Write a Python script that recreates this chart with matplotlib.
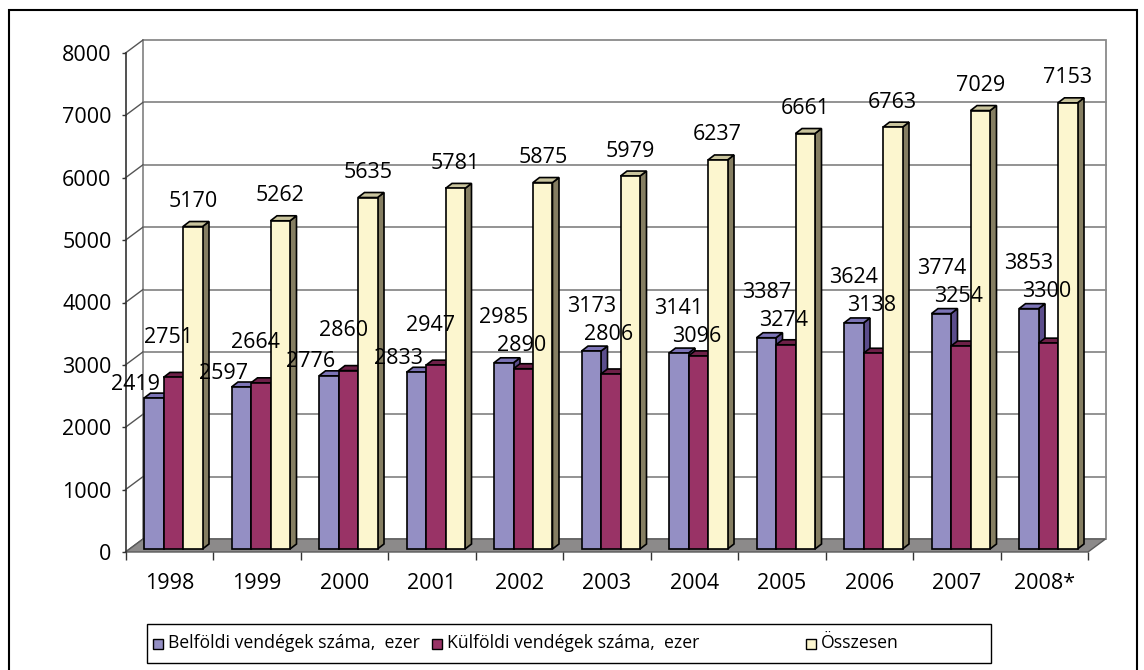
import matplotlib
matplotlib.use("Agg")
import matplotlib.pyplot as plt
from matplotlib.patches import Polygon, Rectangle
import numpy as np

years = ["1998", "1999", "2000", "2001", "2002", "2003", "2004", "2005", "2006", "2007", "2008*"]
belfoldi = [2419, 2597, 2776, 2833, 2985, 3173, 3141, 3387, 3624, 3774, 3853]
kulfoldi = [2751, 2664, 2860, 2947, 2890, 2806, 3096, 3274, 3138, 3254, 3300]
osszesen = [5170, 5262, 5635, 5781, 5875, 5979, 6237, 6661, 6763, 7029, 7153]
series_names = ["Belföldi vendégek száma,  ezer", "Külföldi vendégek száma,  ezer", "Összesen"]
yticks = [0, 1000, 2000, 3000, 4000, 5000, 6000, 7000, 8000]

plt.rcParams['font.family'] = ['Open Sans', 'DejaVu Sans']
FS = 15.5
FS_LEG = 12.7

W_PX, H_PX = 1144, 670
fig = plt.figure(figsize=(W_PX / 100, H_PX / 100), dpi=100)
fig.patch.set_facecolor('white')

ax_l, ax_r, ax_t, ax_b = 125.5, 1088, 53, 552
ax = fig.add_axes([ax_l / W_PX, 1 - ax_b / H_PX, (ax_r - ax_l) / W_PX, (ax_b - ax_t) / H_PX])
n = len(years)
ax.set_xlim(-0.5, n - 0.5)
ax.set_ylim(0, 8000)
ax.set_facecolor('none')

px_x = (ax_r - ax_l) / n          # pixels per category unit
px_y = (ax_b - ax_t) / 8000.0     # pixels per value unit

# depths (pixels -> data units)
wdx, wdy = 17.5 / px_x, 13.0 / px_y
bdx, bdy = 6.5 / px_x, 5.0 / px_y
lift = 3.0 / px_y
bar_w = 19.5 / px_x
group_start = 18.5 / px_x

grid_c = '#8a8a8a'
# back wall
ax.add_patch(Rectangle((-0.5 + wdx, wdy), n, 8000, facecolor='white', edgecolor=grid_c,
                       lw=1.3, zorder=0, clip_on=False))
for v in yticks[1:-1]:
    ax.plot([-0.5 + wdx, n - 0.5 + wdx], [v + wdy, v + wdy], color=grid_c, lw=1.3,
            zorder=0.5, clip_on=False)
# left wall diagonals
for v in yticks:
    ax.plot([-0.5, -0.5 + wdx], [v, v + wdy], color='#555555', lw=1.0, zorder=0.5, clip_on=False)
# floor
ax.add_patch(Polygon([(-0.5, 0), (n - 0.5, 0), (n - 0.5 + wdx, wdy), (-0.5 + wdx, wdy)],
                     closed=True, facecolor='#8c8a8a', edgecolor='#5a5a5a', lw=1.0,
                     zorder=1, clip_on=False))

faces = [
    ('#948fc4', '#7c74b6', '#5b4d8c'),
    ('#993366', '#6e2048', '#5c1a3c'),
    ('#fcf6cf', '#c9c49d', '#857e62'),
]
data = [belfoldi, kulfoldi, osszesen]

z = 2
for i in range(n):
    for s in range(3):
        v = data[s][i]
        xl = i - 0.5 + group_start + s * bar_w
        xr = xl + bar_w
        y0 = lift
        y1 = v + lift
        fc, tc, sc = faces[s]
        ax.add_patch(Polygon([(xr, y0), (xr + bdx, y0 + bdy), (xr + bdx, y1 + bdy), (xr, y1)],
                             closed=True, facecolor=sc, edgecolor='black', lw=1.2, zorder=z,
                             clip_on=False, joinstyle='miter'))
        ax.add_patch(Polygon([(xl, y1), (xr, y1), (xr + bdx, y1 + bdy), (xl + bdx, y1 + bdy)],
                             closed=True, facecolor=tc, edgecolor='black', lw=1.2, zorder=z + 0.1,
                             clip_on=False, joinstyle='miter'))
        ax.add_patch(Polygon([(xl, y0), (xr, y0), (xr, y1), (xl, y1)],
                             closed=True, facecolor=fc, edgecolor='black', lw=1.2, zorder=z + 0.2,
                             clip_on=False, joinstyle='miter'))
        z += 1


def put_label(i, s, y, dx_px):
    v = data[s][i]
    xc = i - 0.5 + group_start + (s + 0.5) * bar_w + dx_px / px_x
    ax.text(xc, y, str(v), ha='center', va='center',
            fontsize=FS, color='black', zorder=200, clip_on=False)


# data labels for the two first series: the taller bar's label goes higher,
# the other label sits just above the taller bar (or left of it)
HIGH_OFF, SEP = 40, 28
for i in range(n):
    b, k = belfoldi[i], kulfoldi[i]
    top_b = b + lift
    top_k = k + lift
    if b >= k:
        lo_y = top_b + 17 / px_y
        hi_y = max(top_b + HIGH_OFF / px_y, lo_y + SEP / px_y)
        put_label(i, 0, hi_y, 0)
        put_label(i, 1, lo_y, -2)
    else:
        lo_y = top_b + 14 / px_y
        hi_y = max(top_k + HIGH_OFF / px_y, lo_y + SEP / px_y)
        put_label(i, 0, lo_y, -18)
        put_label(i, 1, hi_y, -5)
    put_label(i, 2, osszesen[i] + lift + 25 / px_y, 0)

# axes styling
for sp in ['top', 'right', 'bottom']:
    ax.spines[sp].set_visible(False)
ax.spines['left'].set_color('#333333')
ax.spines['left'].set_linewidth(1.2)
ax.spines['left'].set_zorder(1.5)
ax.set_yticks(yticks)
ax.set_yticklabels([str(v) for v in yticks], fontsize=FS)
ax.tick_params(axis='y', direction='out', length=3, width=1.0, color='#333333', pad=7)

ax.set_xticks(range(n))
ax.set_xticklabels(years, fontsize=FS)
ax.tick_params(axis='x', which='major', length=0, pad=15)
ax.set_xticks(np.arange(-0.5, n), minor=True)
ax.tick_params(axis='x', which='minor', direction='out', length=6, width=1.0, color='#333333')

# legend (drawn as a framed box with three entries)
leg_l, leg_r, leg_t, leg_b = 147, 991, 624, 663
fig.patches.append(Rectangle((leg_l / W_PX, 1 - leg_b / H_PX), (leg_r - leg_l) / W_PX,
                             (leg_b - leg_t) / H_PX, transform=fig.transFigure,
                             fill=True, facecolor='white', edgecolor='black', lw=1.0))
entry_x = [153, 432, 806]
yc = (leg_t + leg_b) / 2
msz = 10
for s in range(3):
    mx = entry_x[s]
    fig.patches.append(Rectangle((mx / W_PX, 1 - (yc + msz / 2) / H_PX), msz / W_PX, msz / H_PX,
                                 transform=fig.transFigure, facecolor=faces[s][0],
                                 edgecolor='black', lw=1.0))
    fig.text((mx + msz + 5) / W_PX, 1 - yc / H_PX, series_names[s], ha='left', va='center',
             fontsize=FS_LEG, color='black')

# outer border
fig.patches.append(Rectangle((9 / W_PX, -0.05), (1137 - 9) / W_PX, (H_PX - 10) / H_PX + 0.05,
                             transform=fig.transFigure, fill=False, edgecolor='black', lw=1.5))

fig.savefig('out.png', dpi=100)
